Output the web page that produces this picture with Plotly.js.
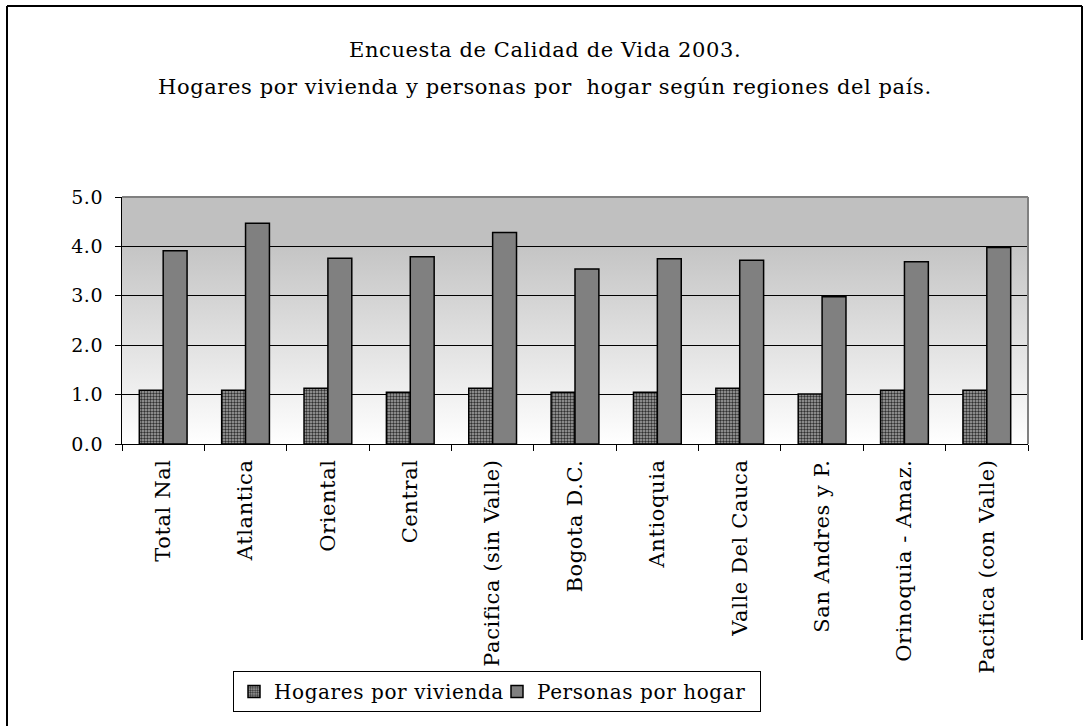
<!DOCTYPE html>
<html>
<head>
<meta charset="utf-8">
<script src="https://cdn.plot.ly/plotly-3.0.1.min.js"></script>
<style>
html,body{margin:0;padding:0;background:#fff;}
text{letter-spacing:0.6px;}
</style>
</head>
<body>
<div id="chart" style="width:1091px;height:726px;"></div>
<script>
const categories = ["Total Nal","Atlantica","Oriental","Central","Pacifica (sin Valle)","Bogota D.C.","Antioquia","Valle Del Cauca","San Andres y P.","Orinoquia - Amaz.","Pacifica (con Valle)"];
const hogaresPorVivienda = [1.09, 1.09, 1.13, 1.05, 1.13, 1.05, 1.05, 1.13, 1.01, 1.09, 1.09];
const personasPorHogar = [3.91, 4.47, 3.76, 3.79, 4.28, 3.54, 3.75, 3.72, 2.98, 3.69, 3.98];
const seriesNames = ["Hogares por vivienda", "Personas por hogar"];
const titleLines = ["Encuesta de Calidad de Vida 2003.", "Hogares por vivienda y personas por  hogar según regiones del país."];
const yTicks = [0, 1, 2, 3, 4, 5];

const FONT = "'DejaVu Serif', 'Liberation Serif', serif";

const gradSvg = "<svg xmlns='http://www.w3.org/2000/svg' width='100' height='100' preserveAspectRatio='none'>" +
  "<defs><linearGradient id='g' x1='0' y1='0' x2='0' y2='1'>" +
  "<stop offset='0' stop-color='#c0c0c0'/><stop offset='0.2' stop-color='#c0c0c0'/>" +
  "<stop offset='0.21' stop-color='#c5c5c5'/><stop offset='1' stop-color='#ffffff'/>" +
  "</linearGradient></defs><rect width='100' height='100' fill='url(#g)'/></svg>";
const gradUri = "data:image/svg+xml;charset=utf-8," + encodeURIComponent(gradSvg);

const traces = [
  {
    type: "bar", name: seriesNames[0], x: categories, y: hogaresPorVivienda,
    marker: {
      color: "#999999",
      line: {color: "#000000", width: 1.5},
      pattern: {shape: ".", fgcolor: "#303030", bgcolor: "#a8a8a8", size: 3, solidity: 0.5}
    },
    hoverinfo: "skip"
  },
  {
    type: "bar", name: seriesNames[1], x: categories, y: personasPorHogar,
    marker: {color: "#808080", line: {color: "#000000", width: 1.5}},
    hoverinfo: "skip"
  }
];

const W = 906, H = 247;
const px = v => (v - 122) / W;
const py = v => (444 - v) / H;

const layout = {
  width: 1091, height: 726,
  margin: {l: 122, r: 63, t: 197, b: 282},
  paper_bgcolor: "#ffffff",
  plot_bgcolor: "rgba(0,0,0,0)",
  font: {family: FONT, color: "#000000", size: 18},
  barmode: "group",
  bargap: 0.42,
  bargroupgap: 0,
  showlegend: true,
  legend: {
    orientation: "h",
    x: px(233), y: py(671), xanchor: "left", yanchor: "top",
    bordercolor: "#000000", borderwidth: 1, bgcolor: "#ffffff",
    font: {family: FONT, size: 20, color: "#000000"},
    traceorder: "normal",
    itemwidth: 30,
    entrywidth: 218, entrywidthmode: "pixels",
    valign: "middle"
  },
  xaxis: {
    type: "category",
    showline: true, linecolor: "#000000", linewidth: 1,
    ticks: "outside", tickson: "boundaries", ticklen: 6, tickcolor: "#000000",
    tickangle: -90,
    tickfont: {family: FONT, size: 21, color: "#000000"},
    ticklabelstandoff: 6,
    showgrid: false, zeroline: false, fixedrange: true
  },
  yaxis: {
    range: [0, 5], tickmode: "array", tickvals: yTicks, tickformat: ".1f",
    showline: true, linecolor: "#000000", linewidth: 1,
    ticks: "outside", ticklen: 6, tickcolor: "#000000",
    tickfont: {family: FONT, size: 19, color: "#000000"},
    ticklabelstandoff: 8,
    showgrid: true, gridcolor: "#000000", gridwidth: 1,
    zeroline: false, fixedrange: true
  },
  annotations: [
    {text: titleLines[0], xref: "paper", yref: "paper", x: px(545), y: py(50), xanchor: "center", yanchor: "middle",
     showarrow: false, font: {family: FONT, size: 21, color: "#000000"}},
    {text: titleLines[1], xref: "paper", yref: "paper", x: px(545), y: py(87), xanchor: "center", yanchor: "middle",
     showarrow: false, font: {family: FONT, size: 21, color: "#000000"}}
  ],
  images: [{
    source: gradUri, xref: "paper", yref: "paper",
    x: 0, y: 1, sizex: 1, sizey: 1, xanchor: "left", yanchor: "top",
    sizing: "stretch", layer: "below"
  }],
  shapes: [
    {type: "line", xref: "paper", yref: "paper", x0: 0, x1: 1, y0: 1, y1: 1, line: {color: "#808080", width: 2}},
    {type: "line", xref: "paper", yref: "paper", x0: 1, x1: 1, y0: 0, y1: 1, line: {color: "#808080", width: 2}},
    {type: "line", xref: "paper", yref: "paper", x0: px(7), x1: px(7), y0: py(6), y1: py(740), line: {color: "#000000", width: 2}},
    {type: "line", xref: "paper", yref: "paper", x0: px(7), x1: px(1082), y0: py(6), y1: py(6), line: {color: "#000000", width: 2}},
    {type: "line", xref: "paper", yref: "paper", x0: px(1082), x1: px(1082), y0: py(6), y1: py(640), line: {color: "#000000", width: 2}}
  ]
};

Plotly.newPlot("chart", traces, layout, {displayModeBar: false, staticPlot: true});
</script>
</body>
</html>
